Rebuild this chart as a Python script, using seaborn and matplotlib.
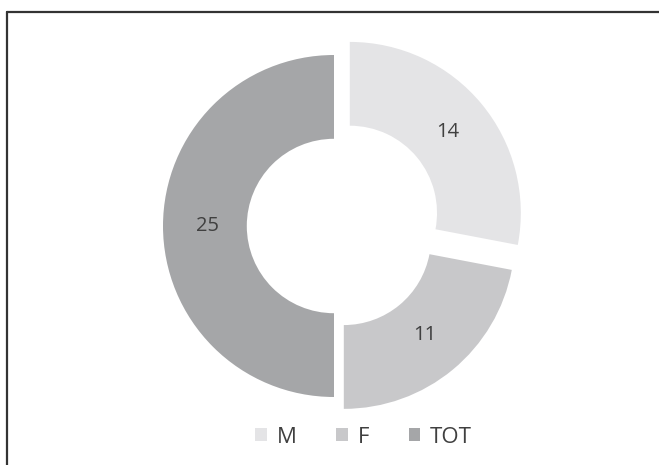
import matplotlib
matplotlib.use("Agg")
import matplotlib.pyplot as plt
import seaborn as sns
from matplotlib.patches import Patch
from matplotlib.lines import Line2D

categories = ["M", "F", "TOT"]
values = [14, 11, 25]
colors = ["#e4e4e6", "#c8c8ca", "#a5a6a8"]
explode = [0.12, 0.09, 0.0]

sns.set_theme(style="white")
plt.rcParams['font.family'] = ['Open Sans', 'DejaVu Sans']

W, H = 659, 465
fig = plt.figure(figsize=(W / 100, H / 100), dpi=100)
ax = fig.add_axes([0, 0, 1, 1])

total = sum(values)
wedges, texts, autotexts = ax.pie(
    values, colors=colors, explode=explode, startangle=90, counterclock=False,
    wedgeprops=dict(width=0.49, edgecolor="none"),
    autopct=lambda p: f"{round(p * total / 100)}", pctdistance=0.74,
    textprops=dict(color="#404040", fontsize=14.5),
)

cx, cy, r = 334, 226, 171
ax.set_xlim(-cx / r, (W - cx) / r)
ax.set_ylim(-(H - cy) / r, cy / r)
ax.set_aspect('auto')
ax.axis('off')

handles = [Patch(facecolor=c, edgecolor="none") for c in colors]
fig.legend(handles, categories, loc='center', bbox_to_anchor=(0.552, 1 - 437 / H),
           ncol=3, frameon=False, handlelength=0.5, handleheight=0.5,
           handletextpad=0.45, columnspacing=1.8,
           prop=dict(size=16), labelcolor="#404040")

# outer border (top and left edges visible)
fig.add_artist(Line2D([7 / W, 7 / W], [0, 1 - 12 / H], transform=fig.transFigure,
                      color="#333333", lw=1.6))
fig.add_artist(Line2D([7 / W, 1], [1 - 12 / H, 1 - 12 / H], transform=fig.transFigure,
                      color="#333333", lw=1.6))

fig.savefig("out.png", dpi=100)
